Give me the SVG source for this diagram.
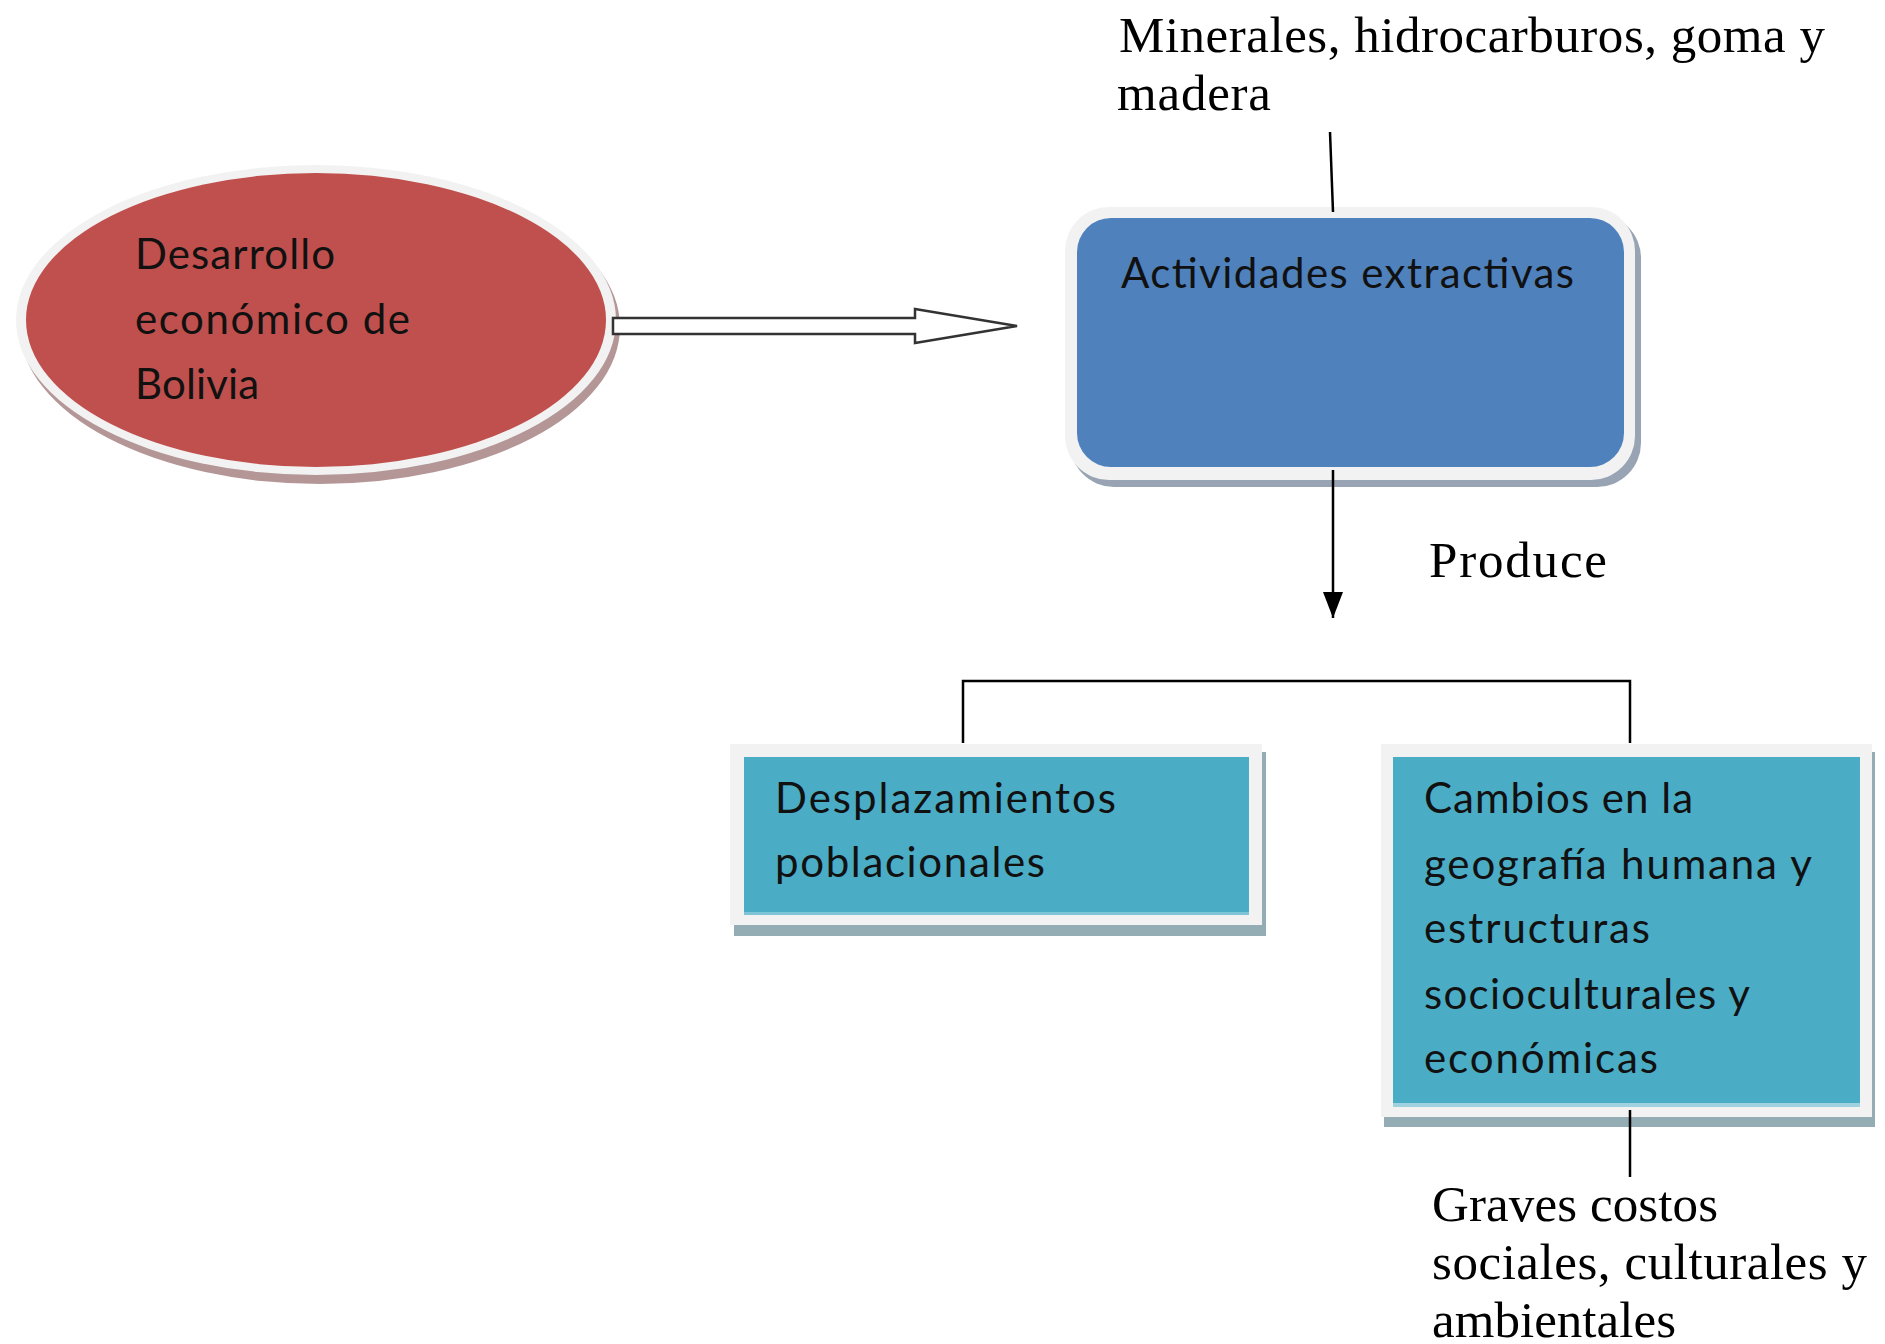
<svg xmlns="http://www.w3.org/2000/svg" width="1885" height="1344" viewBox="0 0 1885 1344">
<defs>
<style>
.serif{font-family:"Liberation Serif","Times New Roman",serif;font-size:51px;fill:#000}
.sans{font-family:Lato,"Open Sans",sans-serif;font-size:42px;fill:#111}
.border{fill:#f2f2f2}
.ln{stroke:#000;stroke-width:2.5;fill:none}
</style>
<marker id="ah" viewBox="0 0 26 20" refX="26" refY="10" markerWidth="26" markerHeight="20" markerUnits="userSpaceOnUse" orient="auto">
<path d="M0,0 L26,10 L0,20 Z" fill="#000"/>
</marker>
</defs>
<rect width="1885" height="1344" fill="#fff"/>

<g id="node-desarrollo">
<ellipse cx="320" cy="327" rx="300" ry="157" fill="#b49696"/>
<ellipse class="border" cx="316" cy="320" rx="300" ry="155"/>
<ellipse cx="316" cy="320" rx="290" ry="147" fill="#c0504d"/>
<text class="sans" x="135" y="269" textLength="200" lengthAdjust="spacing">Desarrollo</text>
<text class="sans" x="135" y="334" textLength="275" lengthAdjust="spacing">económico de</text>
<text class="sans" x="135" y="399" textLength="124" lengthAdjust="spacing">Bolivia</text>
</g>

<g id="node-actividades">
<rect x="1070" y="214" width="571" height="273" rx="44" fill="#98a4b4"/>
<rect class="border" x="1065" y="207" width="570" height="273" rx="44"/>
<rect x="1077" y="218" width="547" height="249" rx="34" fill="#4f81bd"/>
<text class="sans" x="1121" y="288" textLength="453" lengthAdjust="spacing">Actividades extractivas</text>
</g>

<g id="node-minerales">
<text class="serif" x="1119" y="52" textLength="706" lengthAdjust="spacing">Minerales, hidrocarburos, goma y</text>
<text class="serif" x="1117" y="110" textLength="154" lengthAdjust="spacing">madera</text>
</g>

<g id="label-produce">
<text class="serif" x="1429" y="577" textLength="178" lengthAdjust="spacing">Produce</text>
</g>

<g id="node-desplazamientos">
<rect x="734" y="752" width="532" height="184" fill="#94acb4"/>
<rect class="border" x="730" y="744" width="532" height="181"/>
<rect x="744" y="757" width="505" height="158" fill="#4bacc6"/>
<rect x="744" y="912" width="505" height="3" fill="#7cc4d6"/>
<text class="sans" x="775" y="813" textLength="341" lengthAdjust="spacing">Desplazamientos</text>
<text class="sans" x="775" y="877" textLength="270" lengthAdjust="spacing">poblacionales</text>
</g>

<g id="node-cambios">
<rect x="1384" y="752" width="491" height="375" fill="#94acb4"/>
<rect class="border" x="1381" y="744" width="491" height="373"/>
<rect x="1393" y="757" width="467" height="350" fill="#4bacc6"/>
<rect x="1393" y="1103" width="467" height="4" fill="#9fd2de"/>
<text class="sans" x="1424" y="813" textLength="269" lengthAdjust="spacing">Cambios en la</text>
<text class="sans" x="1424" y="879" textLength="388" lengthAdjust="spacing">geografía humana y</text>
<text class="sans" x="1424" y="943" textLength="226" lengthAdjust="spacing">estructuras</text>
<text class="sans" x="1424" y="1009" textLength="326" lengthAdjust="spacing">socioculturales y</text>
<text class="sans" x="1424" y="1073" textLength="234" lengthAdjust="spacing">económicas</text>
</g>

<g id="node-graves">
<text class="serif" x="1432" y="1221" textLength="286" lengthAdjust="spacing">Graves costos</text>
<text class="serif" x="1432" y="1279" textLength="435" lengthAdjust="spacing">sociales, culturales y</text>
<text class="serif" x="1432" y="1337" textLength="244" lengthAdjust="spacing">ambientales</text>
</g>

<g id="connectors">
<polygon points="613,318 915,318 915,309 1017,326 915,343 915,334 613,334" fill="#fff" stroke="#333" stroke-width="2.5" stroke-linejoin="miter"/>
<line class="ln" x1="1330" y1="132" x2="1333" y2="212"/>
<line class="ln" x1="1333" y1="470" x2="1333" y2="618" marker-end="url(#ah)"/>
<polyline class="ln" points="963,743 963,681 1630,681 1630,743"/>
<line class="ln" x1="1630" y1="1110" x2="1630" y2="1177"/>
</g>
</svg>
